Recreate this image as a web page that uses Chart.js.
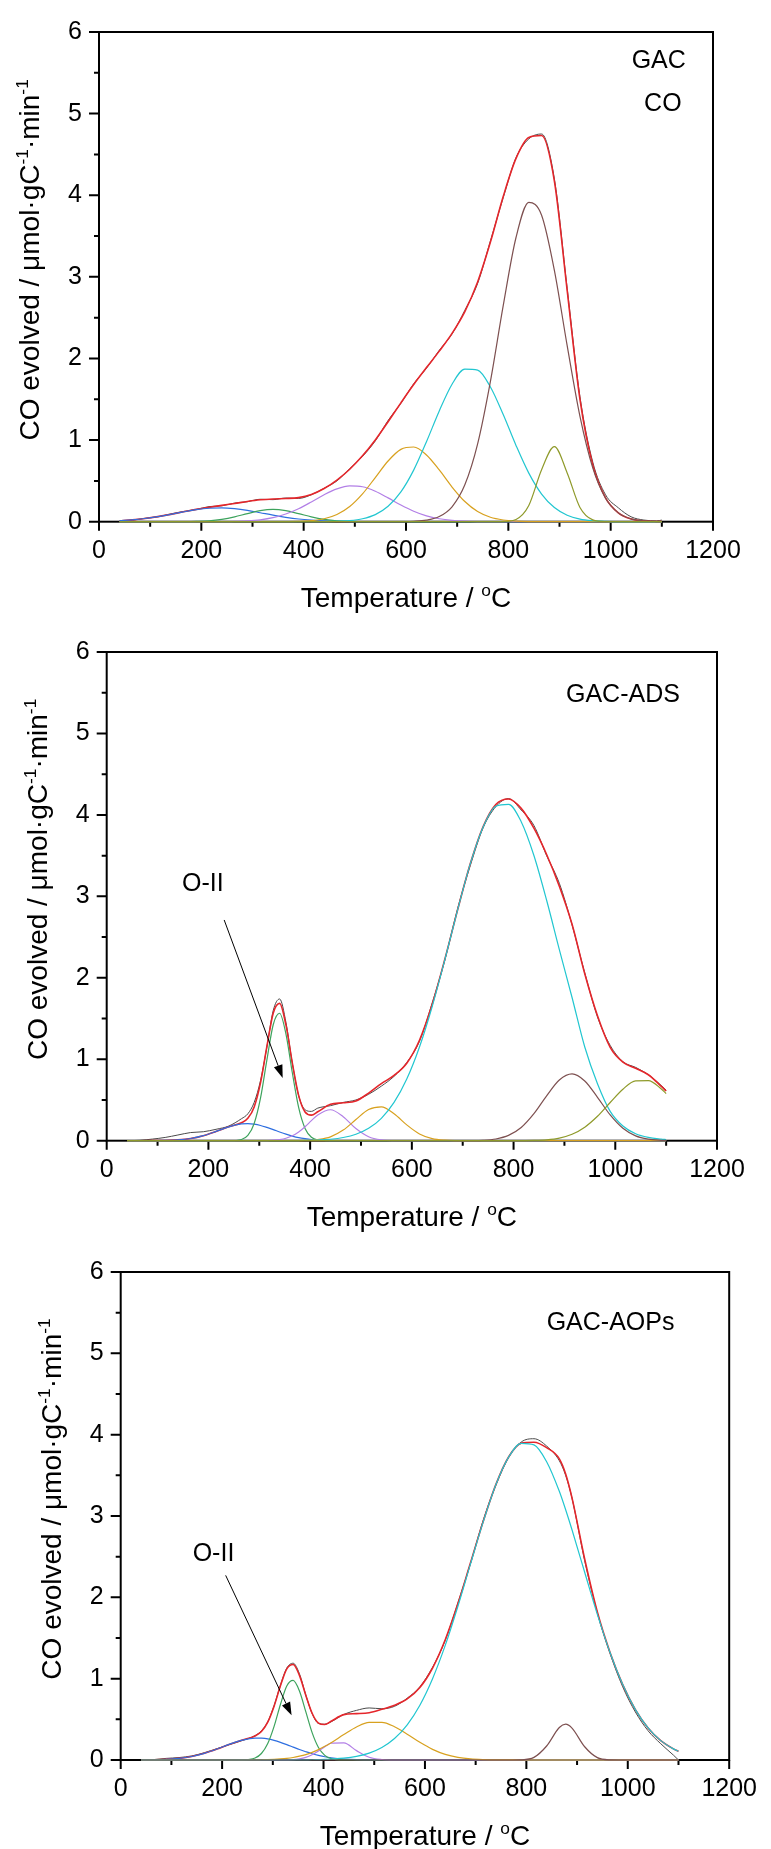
<!DOCTYPE html>
<html>
<head>
<meta charset="utf-8">
<script src="https://cdn.jsdelivr.net/npm/chart.js@4.4.0/dist/chart.umd.min.js"></script>
<style>
  html, body { margin: 0; padding: 0; background: #fff; }
  #wrap { position: relative; width: 771px; height: 1849px; }
  canvas { position: absolute; left: 0; }
</style>
</head>
<body>
<div id="wrap">
  <canvas id="c1" width="771" height="620" style="top:0px"></canvas>
  <canvas id="c2" width="771" height="620" style="top:620px"></canvas>
  <canvas id="c3" width="771" height="609" style="top:1240px"></canvas>
</div>
<script>
const FONT = 'Arial, "Liberation Sans", sans-serif';

// ---- GAC (top panel) ----
const temps1 = [40, 65, 90, 115, 140, 165, 190, 215, 240, 265, 290, 315, 340, 365, 390, 415, 440, 465, 490, 515, 540, 565, 590, 615, 640, 665, 690, 715, 740, 765, 790, 815, 840, 865, 890, 915, 940, 965, 990, 1015, 1040, 1065, 1090, 1100];
const exp1 = [0.005, 0.018, 0.042, 0.06, 0.095, 0.125, 0.15, 0.185, 0.195, 0.228, 0.245, 0.275, 0.27, 0.29, 0.285, 0.33, 0.41, 0.5, 0.65, 0.8, 0.99, 1.24, 1.45, 1.69, 1.88, 2.1, 2.3, 2.59, 2.92, 3.44, 3.97, 4.46, 4.69, 4.75, 4.2, 2.86, 1.53, 0.73, 0.33, 0.17, 0.06, 0.02, 0.01, 0.02];
const fit1 = [0.012, 0.022, 0.039, 0.062, 0.09, 0.121, 0.151, 0.176, 0.2, 0.223, 0.248, 0.268, 0.279, 0.284, 0.295, 0.333, 0.406, 0.51, 0.643, 0.807, 1.001, 1.225, 1.456, 1.68, 1.888, 2.09, 2.308, 2.575, 2.937, 3.426, 3.984, 4.452, 4.708, 4.731, 4.173, 2.834, 1.498, 0.695, 0.293, 0.109, 0.034, 0.009, 0.002, 0.001];
const blue1 = [0.012, 0.022, 0.039, 0.062, 0.09, 0.12, 0.147, 0.165, 0.17, 0.16, 0.139, 0.11, 0.08, 0.054, 0.033, 0.019, 0.01, 0.005, 0.002, 0.001, 0, 0, 0, 0, 0, 0, 0, 0, 0, 0, 0, 0, 0, 0, 0, 0, 0, 0, 0, 0, 0, 0, 0, 0];
const green1 = [0, 0, 0, 0, 0, 0.001, 0.004, 0.011, 0.029, 0.059, 0.099, 0.135, 0.15, 0.135, 0.099, 0.059, 0.029, 0.011, 0.004, 0.001, 0, 0, 0, 0, 0, 0, 0, 0, 0, 0, 0, 0, 0, 0, 0, 0, 0, 0, 0, 0, 0, 0, 0, 0];
const purple1 = [0, 0, 0, 0, 0, 0, 0, 0, 0.001, 0.004, 0.01, 0.023, 0.049, 0.094, 0.159, 0.242, 0.33, 0.402, 0.438, 0.428, 0.373, 0.292, 0.204, 0.128, 0.071, 0.036, 0.016, 0.006, 0.002, 0.001, 0, 0, 0, 0, 0, 0, 0, 0, 0, 0, 0, 0, 0, 0];
const orange1 = [0, 0, 0, 0, 0, 0, 0, 0, 0, 0, 0, 0, 0, 0.001, 0.004, 0.013, 0.036, 0.088, 0.186, 0.341, 0.541, 0.744, 0.886, 0.915, 0.818, 0.634, 0.425, 0.247, 0.124, 0.054, 0.021, 0.007, 0.002, 0.001, 0, 0, 0, 0, 0, 0, 0, 0, 0, 0];
const cyan1 = [0, 0, 0, 0, 0, 0, 0, 0, 0, 0, 0, 0, 0, 0, 0, 0, 0.001, 0.004, 0.013, 0.036, 0.087, 0.189, 0.365, 0.632, 0.98, 1.357, 1.684, 1.87, 1.857, 1.651, 1.313, 0.935, 0.595, 0.339, 0.173, 0.079, 0.032, 0.012, 0.004, 0.001, 0, 0, 0, 0];
const brown1 = [0, 0, 0, 0, 0, 0, 0, 0, 0, 0, 0, 0, 0, 0, 0, 0, 0, 0, 0, 0, 0, 0, 0.001, 0.005, 0.019, 0.063, 0.183, 0.452, 0.954, 1.72, 2.648, 3.482, 3.912, 3.755, 3.08, 2.157, 1.291, 0.66, 0.288, 0.108, 0.034, 0.009, 0.002, 0.001];
const olive1 = [0, 0, 0, 0, 0, 0, 0, 0, 0, 0, 0, 0, 0, 0, 0, 0, 0, 0, 0, 0, 0, 0, 0, 0, 0, 0, 0, 0, 0, 0, 0.002, 0.028, 0.199, 0.637, 0.92, 0.598, 0.175, 0.023, 0.001, 0, 0, 0, 0, 0];

// ---- GAC-ADS (middle panel) ----
const temps2 = [40, 65, 90, 115, 140, 165, 190, 215, 240, 265, 277.5, 290, 302.5, 315, 327.5, 340, 352.5, 365, 377.5, 390, 402.5, 415, 440, 465, 490, 515, 540, 565, 590, 615, 640, 665, 690, 715, 740, 765, 790, 815, 840, 865, 890, 915, 940, 965, 990, 1015, 1040, 1065, 1090, 1100];
const exp2 = [0, 0.005, 0.02, 0.04, 0.07, 0.1, 0.11, 0.14, 0.18, 0.27, 0.33, 0.47, 0.74, 1.15, 1.6, 1.74, 1.45, 0.95, 0.55, 0.38, 0.36, 0.4, 0.43, 0.47, 0.5, 0.57, 0.67, 0.79, 0.96, 1.22, 1.69, 2.22, 2.85, 3.38, 3.84, 4.1, 4.2, 4.06, 3.87, 3.5, 3.16, 2.65, 2.06, 1.52, 1.17, 0.97, 0.9, 0.81, 0.68, 0.62];
const fit2 = [0, 0, 0.001, 0.003, 0.01, 0.027, 0.062, 0.114, 0.17, 0.221, 0.275, 0.415, 0.713, 1.157, 1.569, 1.686, 1.418, 0.952, 0.553, 0.352, 0.314, 0.355, 0.447, 0.465, 0.488, 0.585, 0.701, 0.802, 0.951, 1.233, 1.674, 2.231, 2.834, 3.402, 3.854, 4.127, 4.195, 4.08, 3.837, 3.514, 3.124, 2.657, 2.049, 1.533, 1.145, 0.964, 0.89, 0.81, 0.67, 0.61];
const blue2 = [0, 0, 0.001, 0.003, 0.01, 0.027, 0.062, 0.114, 0.17, 0.206, 0.21, 0.203, 0.187, 0.163, 0.136, 0.107, 0.08, 0.057, 0.038, 0.025, 0.015, 0.009, 0.002, 0.001, 0, 0, 0, 0, 0, 0, 0, 0, 0, 0, 0, 0, 0, 0, 0, 0, 0, 0, 0, 0, 0, 0, 0, 0, 0, 0];
const green2 = [0, 0, 0, 0, 0, 0, 0, 0, 0, 0.015, 0.065, 0.212, 0.525, 0.992, 1.427, 1.565, 1.308, 0.834, 0.405, 0.15, 0.042, 0.009, 0, 0, 0, 0, 0, 0, 0, 0, 0, 0, 0, 0, 0, 0, 0, 0, 0, 0, 0, 0, 0, 0, 0, 0, 0, 0, 0, 0];
const purple2 = [0, 0, 0, 0, 0, 0, 0, 0, 0, 0, 0, 0, 0.001, 0.002, 0.006, 0.014, 0.03, 0.06, 0.107, 0.171, 0.246, 0.316, 0.38, 0.295, 0.149, 0.049, 0.01, 0.001, 0, 0, 0, 0, 0, 0, 0, 0, 0, 0, 0, 0, 0, 0, 0, 0, 0, 0, 0, 0, 0, 0];
const orange2 = [0, 0, 0, 0, 0, 0, 0, 0, 0, 0, 0, 0, 0, 0, 0, 0, 0, 0, 0.001, 0.003, 0.006, 0.013, 0.047, 0.13, 0.26, 0.384, 0.416, 0.331, 0.194, 0.083, 0.026, 0.006, 0.001, 0, 0, 0, 0, 0, 0, 0, 0, 0, 0, 0, 0, 0, 0, 0, 0, 0];
const cyan2 = [0, 0, 0, 0, 0, 0, 0, 0, 0, 0, 0, 0, 0, 0, 0, 0, 0, 0.001, 0.002, 0.003, 0.005, 0.008, 0.018, 0.039, 0.079, 0.152, 0.275, 0.47, 0.757, 1.15, 1.648, 2.225, 2.833, 3.401, 3.849, 4.106, 4.13, 3.917, 3.502, 2.952, 2.347, 1.758, 1.15, 0.7, 0.36, 0.18, 0.085, 0.04, 0.02, 0.015];
const brown2 = [0, 0, 0, 0, 0, 0, 0, 0, 0, 0, 0, 0, 0, 0, 0, 0, 0, 0, 0, 0, 0, 0, 0, 0, 0, 0, 0, 0, 0, 0, 0, 0, 0, 0.001, 0.005, 0.021, 0.065, 0.162, 0.332, 0.551, 0.745, 0.82, 0.733, 0.533, 0.316, 0.152, 0.059, 0.019, 0.005, 0.003];
const olive2 = [0, 0, 0, 0, 0, 0, 0, 0, 0, 0, 0, 0, 0, 0, 0, 0, 0, 0, 0, 0, 0, 0, 0, 0, 0, 0, 0, 0, 0, 0, 0, 0, 0, 0, 0, 0, 0, 0.001, 0.003, 0.011, 0.032, 0.079, 0.166, 0.3, 0.469, 0.632, 0.735, 0.737, 0.638, 0.578];

// ---- GAC-AOPs (bottom panel) ----
const temps3 = [40, 65, 90, 115, 140, 165, 190, 215, 240, 265, 277.5, 290, 302.5, 315, 327.5, 340, 352.5, 365, 377.5, 390, 402.5, 415, 440, 465, 490, 515, 540, 565, 590, 615, 640, 665, 690, 715, 740, 765, 790, 815, 840, 865, 877.5, 890, 915, 940, 965, 990, 1015, 1040, 1065, 1090, 1100];
const exp3 = [0, 0.005, 0.02, 0.03, 0.05, 0.09, 0.14, 0.19, 0.24, 0.3, 0.36, 0.47, 0.67, 0.92, 1.13, 1.19, 1.06, 0.8, 0.57, 0.45, 0.44, 0.47, 0.56, 0.61, 0.64, 0.63, 0.66, 0.76, 0.9, 1.14, 1.47, 1.93, 2.42, 2.95, 3.38, 3.72, 3.91, 3.95, 3.86, 3.68, 3.5, 3.22, 2.45, 1.81, 1.31, 0.9, 0.59, 0.36, 0.2, 0.06, 0];
const fit3 = [0.001, 0.003, 0.008, 0.02, 0.043, 0.082, 0.135, 0.195, 0.246, 0.296, 0.351, 0.466, 0.662, 0.912, 1.12, 1.174, 1.04, 0.797, 0.575, 0.454, 0.436, 0.476, 0.558, 0.57, 0.582, 0.623, 0.673, 0.751, 0.891, 1.131, 1.478, 1.923, 2.427, 2.936, 3.389, 3.725, 3.896, 3.907, 3.84, 3.703, 3.517, 3.223, 2.471, 1.819, 1.323, 0.927, 0.619, 0.394, 0.238, 0.137, 0.108];
const blue3 = [0.001, 0.003, 0.008, 0.02, 0.043, 0.082, 0.135, 0.195, 0.245, 0.27, 0.268, 0.259, 0.241, 0.217, 0.189, 0.159, 0.129, 0.102, 0.077, 0.057, 0.04, 0.028, 0.012, 0.004, 0.001, 0, 0, 0, 0, 0, 0, 0, 0, 0, 0, 0, 0, 0, 0, 0, 0, 0, 0, 0, 0, 0, 0, 0, 0, 0, 0];
const green3 = [0, 0, 0, 0, 0, 0, 0, 0, 0.001, 0.025, 0.08, 0.202, 0.413, 0.682, 0.909, 0.978, 0.849, 0.594, 0.336, 0.153, 0.057, 0.017, 0.001, 0, 0, 0, 0, 0, 0, 0, 0, 0, 0, 0, 0, 0, 0, 0, 0, 0, 0, 0, 0, 0, 0, 0, 0, 0, 0, 0, 0];
const purple3 = [0, 0, 0, 0, 0, 0, 0, 0, 0, 0, 0, 0, 0, 0, 0.002, 0.005, 0.014, 0.032, 0.065, 0.111, 0.164, 0.207, 0.21, 0.115, 0.034, 0.006, 0, 0, 0, 0, 0, 0, 0, 0, 0, 0, 0, 0, 0, 0, 0, 0, 0, 0, 0, 0, 0, 0, 0, 0, 0];
const orange3 = [0, 0, 0, 0, 0, 0, 0, 0, 0, 0.001, 0.003, 0.005, 0.008, 0.013, 0.02, 0.031, 0.047, 0.067, 0.094, 0.128, 0.168, 0.213, 0.313, 0.406, 0.462, 0.463, 0.409, 0.318, 0.217, 0.131, 0.069, 0.032, 0.013, 0.005, 0.002, 0.001, 0, 0, 0, 0, 0, 0, 0, 0, 0, 0, 0, 0, 0, 0, 0];
const cyan3 = [0, 0, 0, 0, 0, 0, 0, 0, 0, 0, 0, 0, 0, 0, 0, 0.001, 0.001, 0.002, 0.003, 0.005, 0.007, 0.011, 0.022, 0.045, 0.085, 0.154, 0.264, 0.433, 0.674, 1.0, 1.409, 1.891, 2.414, 2.931, 3.387, 3.724, 3.894, 3.875, 3.668, 3.304, 3.077, 2.831, 2.308, 1.79, 1.321, 0.927, 0.619, 0.394, 0.238, 0.137, 0.108];
const brown3 = [0, 0, 0, 0, 0, 0, 0, 0, 0, 0, 0, 0, 0, 0, 0, 0, 0, 0, 0, 0, 0, 0, 0, 0, 0, 0, 0, 0, 0, 0, 0, 0, 0, 0, 0, 0, 0.002, 0.032, 0.172, 0.399, 0.44, 0.392, 0.163, 0.029, 0.002, 0, 0, 0, 0, 0, 0];

const xTicks = [0, 200, 400, 600, 800, 1000, 1200];
const yTicks = [0, 1, 2, 3, 4, 5, 6];

const COL = {
  exp: '#4a4a4a',
  fit: '#e5262b',
  blue: '#2f6fe0',
  green: '#3da35d',
  purple: '#b27fe6',
  orange: '#d8a11f',
  cyan: '#21c6d0',
  brown: '#7d5050',
  olive: '#8f9a2a'
};

function series(temps, vals, color, width) {
  return {
    data: temps.map((t, i) => ({ x: t, y: vals[i] })),
    borderColor: color,
    borderWidth: width,
    pointRadius: 0,
    fill: false,
    clip: false,
    cubicInterpolationMode: 'monotone'
  };
}

// draw a string made of normal and superscript pieces, centred on cx, baseline at by
function drawRich(ctx, segs, size, cx, by) {
  let w = 0;
  segs.forEach(s => {
    ctx.font = (s.sup ? size * 0.62 : size) + 'px ' + FONT;
    w += ctx.measureText(s.t).width;
  });
  let xx = cx - w / 2;
  ctx.textAlign = 'left';
  ctx.textBaseline = 'alphabetic';
  segs.forEach(s => {
    ctx.font = (s.sup ? size * 0.62 : size) + 'px ' + FONT;
    ctx.fillText(s.t, xx, by - (s.sup ? size * 0.4 : 0));
    xx += ctx.measureText(s.t).width;
  });
}

const yTitle = [
  { t: 'CO evolved / \u03bcmol\u00b7gC' }, { t: '-1', sup: true },
  { t: '\u00b7min' }, { t: '-1', sup: true }
];
const xTitle = [{ t: 'Temperature / ' }, { t: 'o', sup: true }, { t: 'C' }];

const decoPlugin = {
  id: 'deco',
  // frame and ticks go under the curves, so the zero lines sit on top of the axis
  beforeDatasetsDraw(chart) {
    const { ctx, chartArea: a } = chart;
    const x = chart.scales.x, y = chart.scales.y;
    ctx.save();
    ctx.strokeStyle = '#000';
    ctx.lineWidth = 2;
    ctx.strokeRect(a.left, a.top, a.right - a.left, a.bottom - a.top);
    ctx.beginPath();
    for (let v = 0; v <= 1200; v += 100) {
      const px = x.getPixelForValue(v);
      ctx.moveTo(px, a.bottom);
      ctx.lineTo(px, a.bottom + (v % 200 === 0 ? 9 : 5));
    }
    for (let v = 0; v <= 6; v += 0.5) {
      const py = y.getPixelForValue(v);
      ctx.moveTo(a.left, py);
      ctx.lineTo(a.left - (Number.isInteger(v) ? 10 : 5), py);
    }
    ctx.stroke();
    ctx.restore();
  },
  afterDraw(chart, args, opts) {
    const { ctx, chartArea: a } = chart;
    const x = chart.scales.x, y = chart.scales.y;
    ctx.save();
    ctx.fillStyle = '#000';
    ctx.strokeStyle = '#000';

    // axis titles
    drawRich(ctx, xTitle, 28, (a.left + a.right) / 2, a.bottom + 85);
    ctx.save();
    ctx.translate(a.left - 60, (a.top + a.bottom) / 2 - 17);
    ctx.rotate(-Math.PI / 2);
    drawRich(ctx, yTitle, 28, 0, 0);
    ctx.restore();

    // text labels in data coordinates
    ctx.font = '25px ' + FONT;
    ctx.textAlign = 'center';
    ctx.textBaseline = 'alphabetic';
    (opts.labels || []).forEach(l => {
      ctx.fillText(l.text, x.getPixelForValue(l.x), y.getPixelForValue(l.y));
    });

    // arrow
    if (opts.arrow) {
      const r = opts.arrow;
      const x1 = x.getPixelForValue(r.from[0]), y1 = y.getPixelForValue(r.from[1]);
      const x2 = x.getPixelForValue(r.to[0]), y2 = y.getPixelForValue(r.to[1]);
      const ang = Math.atan2(y2 - y1, x2 - x1);
      const hl = 13, hw = 4.5;
      ctx.lineWidth = 1;
      ctx.beginPath();
      ctx.moveTo(x1, y1);
      ctx.lineTo(x2 - hl * Math.cos(ang), y2 - hl * Math.sin(ang));
      ctx.stroke();
      ctx.beginPath();
      ctx.moveTo(x2, y2);
      ctx.lineTo(x2 - hl * Math.cos(ang) + hw * Math.sin(ang), y2 - hl * Math.sin(ang) - hw * Math.cos(ang));
      ctx.lineTo(x2 - hl * Math.cos(ang) - hw * Math.sin(ang), y2 - hl * Math.sin(ang) + hw * Math.cos(ang));
      ctx.closePath();
      ctx.fill();
    }
    ctx.restore();
  }
};

function makePanel(id, box, datasets, deco) {
  const canvas = document.getElementById(id);
  new Chart(canvas, {
    type: 'line',
    data: { datasets },
    options: {
      responsive: false,
      animation: false,
      devicePixelRatio: 1,
      layout: { padding: { left: 0, top: box.top, right: box.right, bottom: 0 } },
      plugins: { legend: { display: false }, tooltip: { enabled: false }, deco },
      scales: {
        x: {
          type: 'linear',
          min: 0,
          max: 1200,
          grid: { display: false, drawTicks: false },
          border: { display: false },
          afterFit: (s) => { s.height = box.xh; },
          ticks: {
            stepSize: 100,
            autoSkip: false,
            maxRotation: 0,
            padding: 14,
            color: '#000',
            font: { size: 25, family: FONT },
            callback: (v) => (xTicks.includes(v) ? String(v) : '')
          }
        },
        y: {
          min: 0,
          max: 6,
          grid: { display: false, drawTicks: false },
          border: { display: false },
          afterFit: (s) => { s.width = box.yw; },
          ticks: {
            stepSize: 0.5,
            padding: 17,
            color: '#000',
            font: { size: 25, family: FONT },
            callback: (v) => (yTicks.includes(v) ? String(v) : '')
          }
        }
      }
    },
    plugins: [decoPlugin]
  });
}

makePanel('c1', { top: 25, right: 58, xh: 98.3, yw: 99 }, [
  series(temps1, olive1, COL.olive, 1.2),
  series(temps1, brown1, COL.brown, 1.2),
  series(temps1, cyan1, COL.cyan, 1.2),
  series(temps1, orange1, COL.orange, 1.2),
  series(temps1, purple1, COL.purple, 1.2),
  series(temps1, green1, COL.green, 1.2),
  series(temps1, blue1, COL.blue, 1.2),
  series(temps1, fit1, COL.fit, 1.6),
  series(temps1, exp1, COL.exp, 1)
], {
  labels: [{ text: 'GAC', x: 1094, y: 5.56 }, { text: 'CO', x: 1102, y: 5.03 }]
});

makePanel('c2', { top: 24, right: 54, xh: 99.3, yw: 106.7 }, [
  series(temps2, olive2, COL.olive, 1.2),
  series(temps2, brown2, COL.brown, 1.2),
  series(temps2, cyan2, COL.cyan, 1.2),
  series(temps2, orange2, COL.orange, 1.2),
  series(temps2, purple2, COL.purple, 1.2),
  series(temps2, green2, COL.green, 1.2),
  series(temps2, blue2, COL.blue, 1.2),
  series(temps2, fit2, COL.fit, 1.6),
  series(temps2, exp2, COL.exp, 1)
], {
  labels: [{ text: 'GAC-ADS', x: 1015, y: 5.38 }, { text: 'O-II', x: 189, y: 3.06 }],
  arrow: { from: [231, 2.71], to: [346, 0.77] }
});

makePanel('c3', { top: 23.3, right: 37, xh: 89, yw: 120.7 }, [
  series(temps3, brown3, COL.brown, 1.2),
  series(temps3, cyan3, COL.cyan, 1.2),
  series(temps3, orange3, COL.orange, 1.2),
  series(temps3, purple3, COL.purple, 1.2),
  series(temps3, green3, COL.green, 1.2),
  series(temps3, blue3, COL.blue, 1.2),
  series(temps3, fit3, COL.fit, 1.6),
  series(temps3, exp3, COL.exp, 1)
], {
  labels: [{ text: 'GAC-AOPs', x: 966, y: 5.29 }, { text: 'O-II', x: 183, y: 2.45 }],
  arrow: { from: [207, 2.27], to: [337, 0.55] }
});
</script>
</body>
</html>
